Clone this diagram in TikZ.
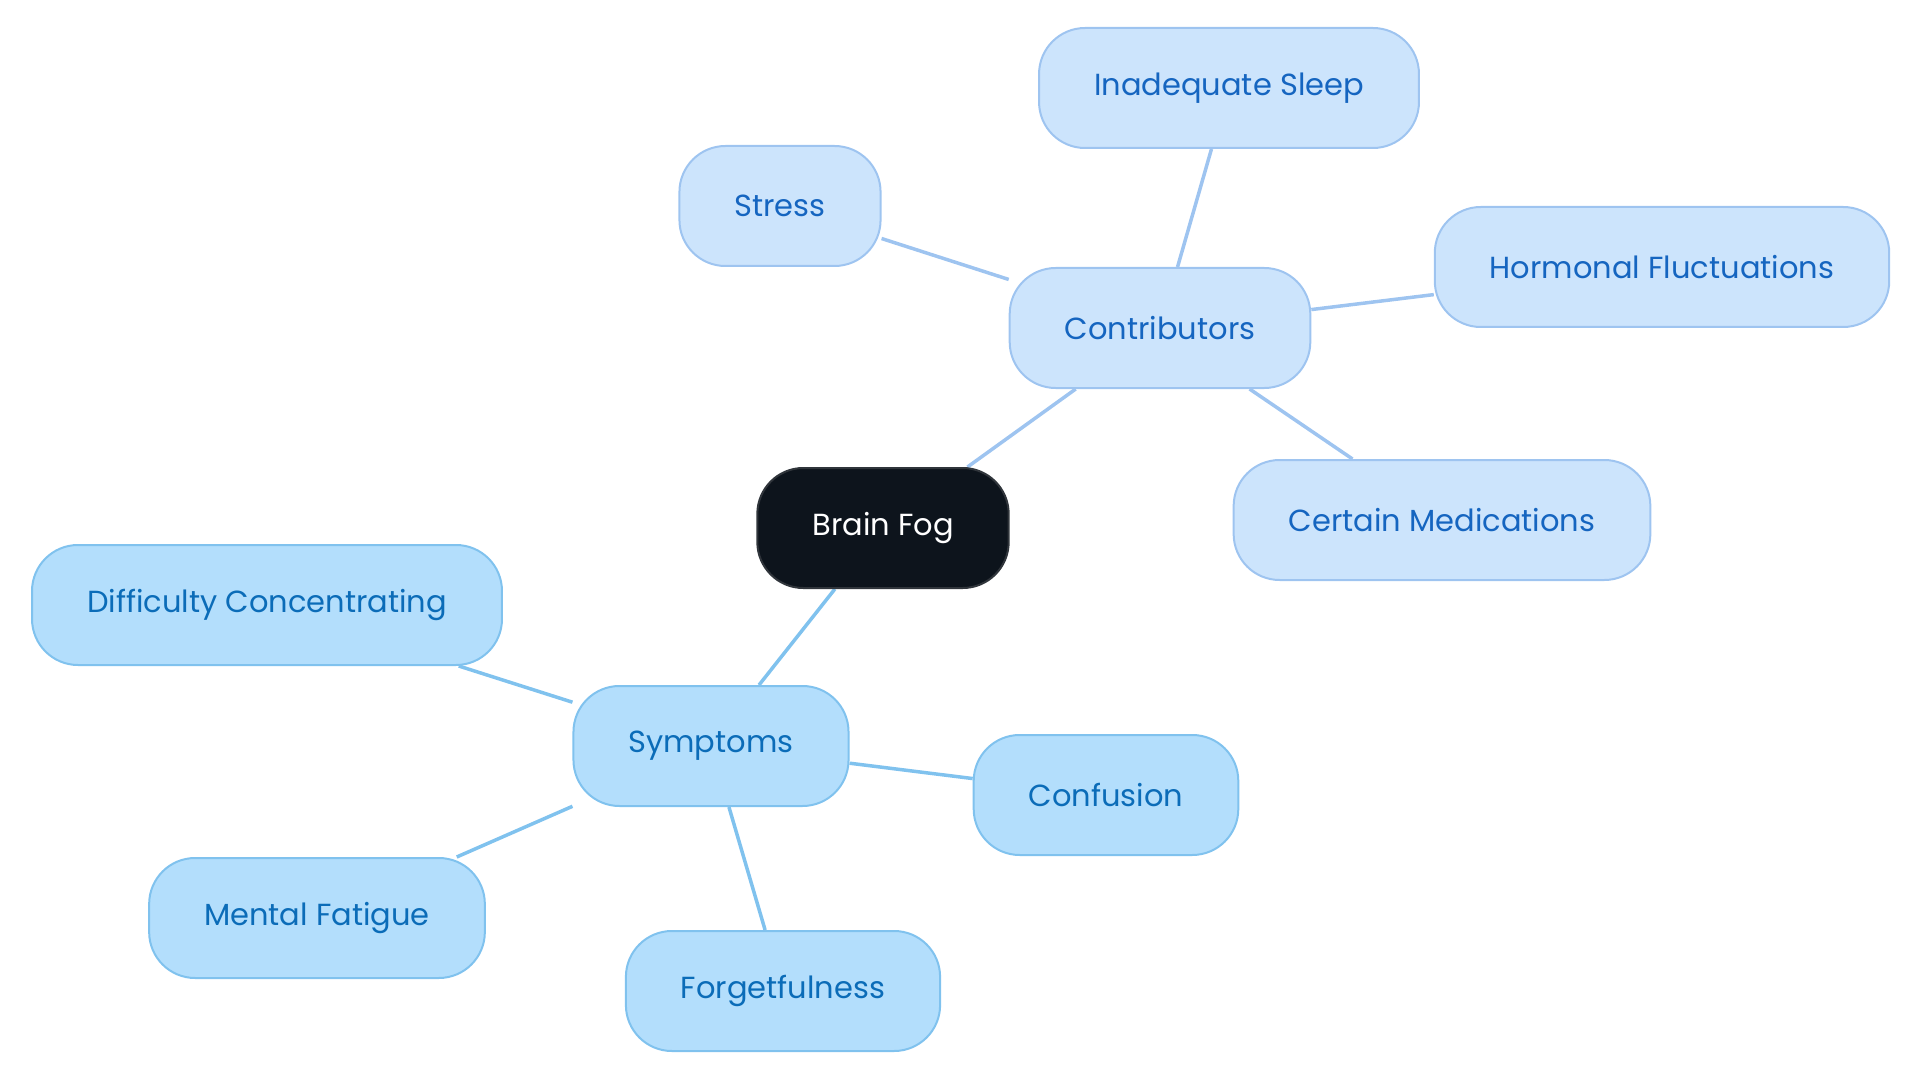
\documentclass[tikz,border=0pt]{standalone}
\usepackage{fontspec}
\setmainfont{Poppins}
\usepackage{xcolor}
\definecolor{rootfill}{HTML}{0D141C}
\definecolor{rootline}{HTML}{30353B}
\definecolor{contfill}{HTML}{CCE4FC}
\definecolor{contline}{HTML}{9EC4F0}
\definecolor{conttext}{HTML}{1565C0}
\definecolor{symfill}{HTML}{B3DEFC}
\definecolor{symline}{HTML}{80C2EE}
\definecolor{symtext}{HTML}{0B6CB8}
\usetikzlibrary{backgrounds,positioning}
\newcommand{\lnk}[3]{\draw[#1] (#2) -- (#3)}

\begin{document}
\begin{tikzpicture}[
      x=1pt,y=-1pt,
      bubble/.style={rectangle,minimum height=120pt,inner xsep=55pt,rounded corners=46pt,line width=2pt,font=\fontsize{30.5}{36}\selectfont},
      root/.style={bubble,fill=rootfill,draw=rootline,text=white},
      cont/.style={bubble,fill=contfill,draw=contline,text=conttext},
      sym/.style={bubble,fill=symfill,draw=symline,text=symtext},
      contedge/.style={line width=3.5pt,draw=contline},
      symedge/.style={line width=3.5pt,draw=symline}]

      \useasboundingbox (0,0) rectangle (1920,1083);

      % Define nodes
      \node[root] (fog) at (883,528) {Brain Fog};
      \node[cont] (contrib) at (1160,328) {Contributors};
      \node[cont] (sleep) at (1229,88) {Inadequate Sleep};
      \node[cont] (stress) at (780,206) {Stress};
      \node[cont] (hormone) at (1662,267) {Hormonal Fluctuations};
      \node[cont] (meds) at (1442,520) {Certain Medications};
      \node[sym] (symp) at (711,746) {Symptoms};
      \node[sym] (concen) at (267,605) {Difficulty Concentrating};
      \node[sym] (confus) at (1106,795) {Confusion};
      \node[sym] (fatigue) at (317,918) {Mental Fatigue};
      \node[sym] (forget) at (783,991) {Forgetfulness};

      % Draw paths
      \begin{pgfonlayer}{background}
      \lnk{contedge}{fog}{contrib};
      \lnk{contedge}{contrib}{sleep};
      \lnk{contedge}{contrib}{stress};
      \lnk{contedge}{contrib}{hormone};
      \lnk{contedge}{contrib}{meds};
      \lnk{symedge}{fog}{symp};
      \lnk{symedge}{symp}{concen};
      \lnk{symedge}{symp}{confus};
      \lnk{symedge}{symp}{fatigue};
      \lnk{symedge}{symp}{forget};
      \end{pgfonlayer}

  \end{tikzpicture}
\end{document}
